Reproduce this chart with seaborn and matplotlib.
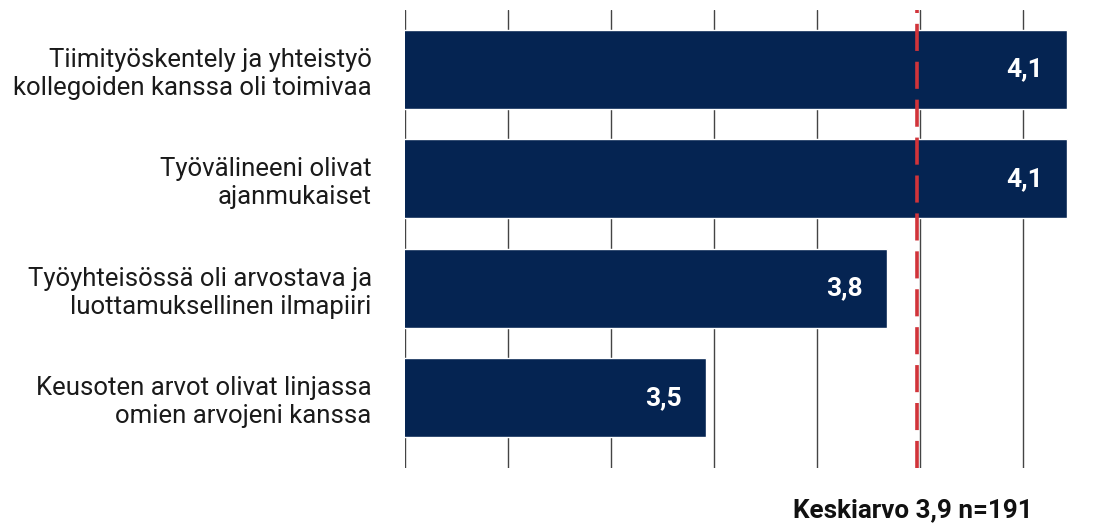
import numpy as np
import pandas as pd
import matplotlib
matplotlib.use("Agg")
import matplotlib.pyplot as plt
import seaborn as sns

categories = [
    "Tiimityöskentely ja yhteistyö\nkollegoiden kanssa oli toimivaa",
    "Työvälineeni olivat\najanmukaiset",
    "Työyhteisössä oli arvostava ja\nluottamuksellinen ilmapiiri",
    "Keusoten arvot olivat linjassa\nomien arvojeni kanssa",
]
values = [4.1, 4.1, 3.8, 3.5]
value_labels = ["4,1", "4,1", "3,8", "3,5"]
mean_score = 3.85
mean_label = "3,9"
n_resp = 191

sns.set_theme(style="white")
plt.rcParams["font.family"] = ["Roboto", "DejaVu Sans"]

W, H = 1117, 525
PX_PER_UNIT = 602
fig = plt.figure(figsize=(W / 100, H / 100), dpi=100)
ax = fig.add_axes([405 / W, 1 - 468 / H, (W - 405) / W, (468 - 10) / H])

df = pd.DataFrame({"cat": categories, "val": values})
bar_color = "#052452"
sns.barplot(data=df, y="cat", x="val", orient="h", color=bar_color,
            saturation=1, width=0.72, ax=ax)

ax.set_xlim(3.0, 3.0 + (W - 405) / PX_PER_UNIT)
ax.set_ylim(3.641, -0.542)

ax.set_xticks(3.0 + np.arange(0, 7) * 103.0 / PX_PER_UNIT)
ax.set_xticklabels([])
ax.set_axisbelow(True)
ax.grid(axis="x", color="#444444", lw=1.0)
ax.grid(axis="y", visible=False)
for s in ax.spines.values():
    s.set_visible(False)
ax.tick_params(axis="both", length=0)
ax.tick_params(axis="y", pad=24, labelsize=18.5, labelcolor="#1a1a1a")
ax.set_xlabel("")
ax.set_ylabel("")

for i, (v, lab) in enumerate(zip(values, value_labels)):
    ax.text(v - 24 / PX_PER_UNIT, i, lab, ha="right", va="center", color="white",
            fontsize=19, fontweight="bold")

ax.axvline(mean_score, color="#d1343a", lw=2.6, dashes=(7.5, 3.0), zorder=5)

fig.text(793 / W, 1 - 517 / H, f"Keskiarvo {mean_label} n={n_resp}",
         ha="left", va="baseline", fontsize=18.7, fontweight="bold", color="#111111")

fig.savefig("out.png", dpi=100)
